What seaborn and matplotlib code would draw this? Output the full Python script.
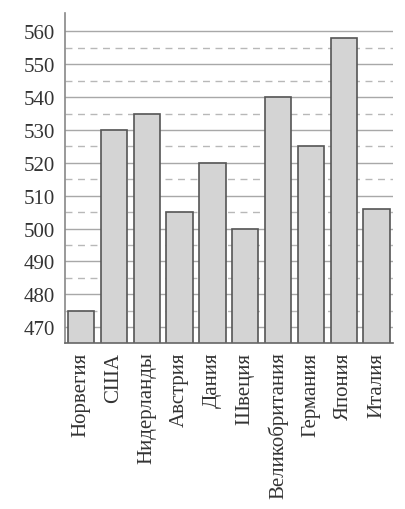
import numpy as np
import pandas as pd
import seaborn as sns
import matplotlib.pyplot as plt

countries = ['Норвегия', 'США', 'Нидерланды', 'Австрия', 'Дания',
             'Швеция', 'Великобритания', 'Германия', 'Япония', 'Италия']
scores = [475, 530, 535, 505, 520, 500, 540, 525, 558, 506]
major_ticks = [470, 480, 490, 500, 510, 520, 530, 540, 550, 560]
minor_ticks = [475, 485, 495, 505, 515, 525, 535, 545, 555]

df = pd.DataFrame({'country': countries, 'score': scores})

sns.set_style('white')
plt.rcParams['font.family'] = ['Liberation Serif', 'DejaVu Serif']

fig = plt.figure(figsize=(4.05, 5.1), dpi=100)
ax = fig.add_axes([0.16, 0.325, 0.81, 0.647])

# grid: solid at tens, dashed at fives
for y in major_ticks:
    ax.axhline(y, color='#a8a8a8', lw=1.0, zorder=0)
for y in minor_ticks:
    ax.axhline(y, color='#b8b8b8', lw=1.0, ls=(0, (5, 4)), zorder=0)

sns.barplot(data=df, x='country', y='score', color='#d4d4d4',
            edgecolor='#555555', linewidth=1.2, width=0.8,
            saturation=1, ax=ax, zorder=2)

ax.set_ylim(465.1, 565.5)
ax.set_xlim(-0.5, 9.5)
ax.set_yticks(major_ticks)
ax.set_xlabel('')
ax.set_ylabel('')
ax.tick_params(axis='y', length=0, labelsize=15, pad=7, colors='#333333')
ax.tick_params(axis='x', length=0, labelsize=15, pad=6, colors='#333333')
plt.setp(ax.get_xticklabels(), rotation=90, va='top')

for side in ['top', 'right']:
    ax.spines[side].set_visible(False)
ax.spines['left'].set_color('#888888')
ax.spines['bottom'].set_color('#666666')
ax.spines['left'].set_linewidth(1.2)
ax.spines['bottom'].set_linewidth(1.2)

fig.savefig('out.png', dpi=100, facecolor='white')
